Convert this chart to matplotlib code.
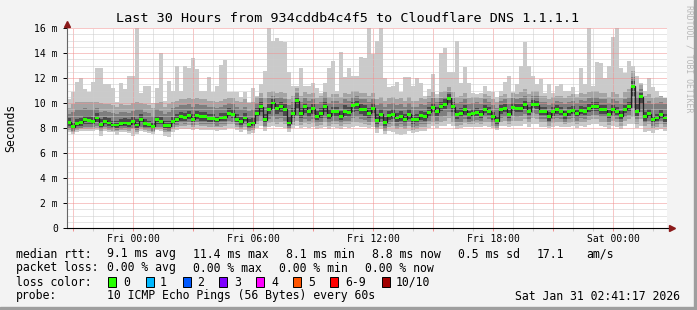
import matplotlib
matplotlib.use("Agg")
import matplotlib.pyplot as plt
import matplotlib.dates as mdates
from matplotlib.patches import Rectangle
from matplotlib.ticker import MultipleLocator, FuncFormatter
from datetime import datetime, timedelta
import numpy as np

# one value per 12 minute step, 30 hours ending Sat Jan 31 02:41:17 2026 (ms)
median_rtt = [
    8.45, 8.1, 8.35, 8.45, 8.65, 8.6, 8.55, 8.8, 8.28, 8.55, 8.4, 8.24, 8.24, 8.35, 8.4, 8.35, 8.5, 8.24, 8.7, 8.35, 8.28, 8.15, 8.65, 8.55, 8.2,
    8.2, 8.55, 8.7, 8.9, 8.85, 9.0, 8.7, 9.0, 8.9, 8.9, 8.75, 8.75, 8.65, 8.8, 8.85, 9.2, 9.1, 8.7, 8.5, 8.8, 8.3, 8.4, 9.15, 9.7, 8.65,
    9.5, 10.0, 9.55, 9.75, 9.5, 8.4, 9.15, 10.2, 9.15, 9.7, 9.3, 9.55, 8.95, 9.15, 9.75, 9.0, 9.3, 9.3, 8.95, 9.35, 9.25, 9.8, 9.85, 9.5, 9.45,
    9.2, 9.6, 8.6, 9.1, 8.45, 9.0, 9.1, 8.8, 8.95, 8.7, 9.1, 8.65, 8.7, 9.0, 8.9, 9.25, 9.65, 9.3, 9.75, 9.9, 10.4, 9.7, 9.1, 9.2, 9.45,
    9.05, 9.2, 9.25, 9.1, 9.5, 9.35, 8.95, 8.6, 9.45, 9.55, 9.1, 9.65, 9.55, 9.6, 9.85, 9.35, 9.9, 9.85, 9.35, 9.35, 8.9, 9.3, 9.45, 9.35, 9.05,
    9.3, 9.4, 9.15, 9.4, 9.35, 9.6, 9.7, 9.7, 9.45, 9.45, 9.1, 9.5, 9.35, 9.0, 9.5, 9.7, 11.35, 9.35, 10.5, 8.9, 9.15, 8.65, 8.8, 9.1, 8.8,
]

# sorted pings of each step (smoke): ping1 lowest ... ping10 highest
ping10 = [
    10.3, 10.9, 11.7, 12.0, 11.1, 10.9, 11.7, 12.8, 12.8, 11.5, 11.5, 11.2, 10.1, 11.6, 11.1, 12.2, 12.2, 16.0, 10.8, 11.4, 11.4, 10.0, 11.2, 14.0, 10.2,
    11.8, 11.0, 13.0, 11.0, 13.0, 12.8, 13.6, 12.75, 11.0, 11.0, 12.1, 10.9, 11.35, 13.05, 13.45, 10.9, 10.9, 10.9, 10.5, 10.9, 10.1, 11.2, 10.6, 11.5, 12.55,
    16.0, 15.0, 15.2, 15.0, 14.9, 12.5, 11.4, 11.4, 12.8, 11.4, 11.4, 11.6, 11.2, 10.8, 11.6, 12.8, 13.4, 11.0, 14.1, 12.1, 12.8, 12.2, 12.2, 13.7, 13.6,
    16.0, 13.9, 15.0, 16.0, 12.0, 11.3, 11.4, 11.7, 10.9, 12.1, 12.1, 11.4, 12.0, 11.6, 10.6, 11.1, 12.3, 10.7, 14.0, 14.4, 12.5, 12.5, 15.0, 11.6, 12.9,
    11.6, 10.8, 10.7, 10.8, 11.4, 11.0, 10.9, 10.5, 11.0, 11.7, 12.2, 10.9, 11.5, 13.0, 14.9, 13.0, 12.2, 11.5, 11.9, 10.8, 11.5, 10.8, 11.4, 11.5, 11.0,
    11.0, 11.3, 10.7, 12.8, 11.5, 16.0, 11.4, 13.3, 13.2, 12.0, 13.0, 15.3, 16.0, 12.8, 12.4, 13.4, 13.0, 12.2, 11.6, 11.0, 12.0, 11.3, 11.0, 10.6, 10.4,
]
ping9 = [
    9.6, 9.9, 10.1, 10.1, 10.1, 10.1, 10.1, 10.1, 10.0, 9.9, 9.9, 9.8, 9.7, 9.9, 9.8, 9.8, 10.0, 10.1, 10.0, 9.9, 9.8, 9.6, 10.0, 10.1, 9.7,
    9.9, 10.1, 10.2, 10.3, 10.3, 10.4, 10.3, 10.4, 10.3, 10.3, 10.2, 10.2, 10.1, 10.2, 10.3, 10.4, 10.4, 10.2, 10.1, 10.3, 10.0, 10.1, 10.5, 10.8, 10.4,
    10.9, 11.0, 10.8, 10.9, 10.8, 10.3, 10.6, 11.2, 10.6, 10.9, 10.7, 10.8, 10.4, 10.6, 10.9, 10.5, 10.7, 10.7, 10.5, 10.8, 10.7, 11.0, 11.0, 10.8, 10.8,
    10.6, 10.8, 10.3, 10.5, 10.2, 10.4, 10.5, 10.3, 10.4, 10.2, 10.5, 10.2, 10.2, 10.4, 10.3, 10.6, 10.9, 10.4, 10.9, 11.0, 11.3, 10.9, 10.5, 10.6, 10.8,
    10.4, 10.5, 10.5, 10.4, 10.7, 10.6, 10.3, 10.1, 10.6, 10.7, 10.4, 10.8, 10.7, 10.9, 11.1, 10.7, 11.0, 11.0, 10.6, 10.6, 10.3, 10.5, 10.6, 10.6, 10.4,
    10.6, 10.7, 10.5, 10.8, 10.7, 10.9, 11.0, 11.0, 10.8, 10.8, 10.5, 10.9, 10.7, 10.4, 10.9, 11.1, 12.6, 11.0, 11.5, 10.6, 10.7, 10.4, 10.5, 10.6, 10.4,
]
ping8 = [
    9.1, 9.3, 9.5, 9.5, 9.6, 9.5, 9.5, 9.6, 9.3, 9.4, 9.3, 9.2, 9.1, 9.3, 9.3, 9.2, 9.4, 9.5, 9.5, 9.3, 9.2, 9.0, 9.5, 9.4, 9.1,
    9.3, 9.6, 9.7, 9.8, 9.8, 9.9, 9.7, 9.9, 9.8, 9.8, 9.7, 9.7, 9.6, 9.7, 9.8, 10.0, 9.9, 9.7, 9.5, 9.7, 9.4, 9.5, 10.0, 10.4, 9.7,
    10.4, 10.6, 10.4, 10.5, 10.3, 9.8, 10.1, 10.8, 10.1, 10.4, 10.2, 10.3, 9.9, 10.1, 10.5, 10.0, 10.2, 10.2, 10.0, 10.3, 10.2, 10.5, 10.6, 10.3, 10.3,
    10.1, 10.3, 9.8, 10.0, 9.7, 9.9, 10.0, 9.8, 9.9, 9.7, 10.0, 9.7, 9.7, 9.9, 9.8, 10.1, 10.4, 10.1, 10.4, 10.5, 10.9, 10.4, 10.0, 10.1, 10.3,
    9.9, 10.0, 10.1, 9.9, 10.3, 10.1, 9.8, 9.6, 10.2, 10.3, 9.9, 10.4, 10.3, 10.4, 10.6, 10.1, 10.6, 10.6, 10.1, 10.1, 9.8, 10.0, 10.2, 10.1, 9.9,
    10.1, 10.2, 10.0, 10.25, 10.2, 10.4, 10.5, 10.5, 10.3, 10.3, 10.0, 10.3, 10.2, 9.9, 10.3, 10.5, 12.1, 10.5, 11.1, 10.0, 10.2, 9.9, 10.0, 10.1, 9.9,
]
ping7 = [
    8.8, 8.5, 8.7, 8.8, 9.0, 9.0, 8.9, 9.2, 8.7, 8.9, 8.8, 8.6, 8.6, 8.7, 8.8, 8.7, 8.9, 8.7, 9.1, 8.7, 8.6, 8.5, 9.0, 8.9, 8.6,
    8.6, 8.9, 9.1, 9.3, 9.2, 9.4, 9.1, 9.4, 9.3, 9.3, 9.1, 9.1, 9.0, 9.2, 9.2, 9.6, 9.5, 9.1, 8.9, 9.2, 8.7, 8.8, 9.6, 10.1, 9.1,
    9.9, 10.3, 9.9, 10.1, 9.9, 9.0, 9.6, 10.5, 9.6, 10.0, 9.7, 9.9, 9.4, 9.6, 10.1, 9.5, 9.7, 9.7, 9.4, 9.8, 9.7, 10.1, 10.2, 9.9, 9.8,
    9.6, 10.0, 9.1, 9.5, 8.9, 9.4, 9.5, 9.2, 9.35, 9.1, 9.5, 9.05, 9.1, 9.4, 9.3, 9.65, 10.0, 9.7, 10.1, 10.3, 10.7, 10.1, 9.5, 9.6, 9.85,
    9.4, 9.55, 9.6, 9.45, 9.85, 9.7, 9.3, 9.0, 9.8, 9.9, 9.45, 10.0, 9.9, 9.95, 10.2, 9.7, 10.25, 10.2, 9.7, 9.7, 9.3, 9.65, 9.8, 9.7, 9.4,
    9.65, 9.75, 9.5, 9.75, 9.7, 9.95, 10.05, 10.05, 9.8, 9.8, 9.45, 9.85, 9.7, 9.35, 9.85, 10.05, 11.8, 9.9, 10.8, 9.3, 9.5, 9.0, 9.15, 9.45, 9.15,
]
ping4 = [
    8.2, 7.95, 8.15, 8.2, 8.35, 8.3, 8.3, 8.5, 8.05, 8.3, 8.15, 8.05, 8.0, 8.15, 8.15, 8.1, 8.25, 8.0, 8.4, 8.1, 8.05, 7.95, 8.35, 8.3, 8.0,
    7.95, 8.3, 8.45, 8.6, 8.6, 8.7, 8.45, 8.7, 8.6, 8.6, 8.5, 8.5, 8.4, 8.55, 8.6, 8.9, 8.8, 8.45, 8.25, 8.55, 8.05, 8.15, 8.85, 9.3, 8.4,
    9.1, 9.5, 9.1, 9.3, 9.0, 8.2, 8.8, 9.6, 8.8, 9.2, 8.9, 9.1, 8.65, 8.8, 9.3, 8.7, 8.9, 8.9, 8.65, 9.0, 8.9, 9.3, 9.4, 9.1, 9.0,
    8.8, 9.2, 8.3, 8.75, 8.15, 8.65, 8.75, 8.5, 8.6, 8.4, 8.75, 8.35, 8.4, 8.65, 8.6, 8.9, 9.25, 8.95, 9.35, 9.5, 9.9, 9.3, 8.75, 8.85, 9.05,
    8.75, 8.9, 8.95, 8.8, 9.2, 9.05, 8.65, 8.35, 9.15, 9.25, 8.8, 9.35, 9.25, 9.3, 9.55, 9.05, 9.6, 9.55, 9.05, 9.05, 8.6, 9.0, 9.15, 9.05, 8.75,
    9.0, 9.1, 8.85, 9.1, 9.05, 9.3, 9.4, 9.4, 9.15, 9.15, 8.8, 9.2, 9.05, 8.7, 9.2, 9.4, 10.6, 9.0, 9.9, 8.6, 8.85, 8.4, 8.55, 8.8, 8.5,
]
ping3 = [
    8.0, 7.8, 7.95, 8.0, 8.1, 8.05, 8.05, 8.2, 7.9, 8.05, 7.95, 7.9, 7.85, 7.95, 8.0, 7.9, 8.0, 7.85, 8.1, 7.95, 7.9, 7.8, 8.1, 8.05, 7.85,
    7.8, 8.1, 8.25, 8.4, 8.35, 8.45, 8.25, 8.45, 8.35, 8.35, 8.3, 8.3, 8.2, 8.3, 8.35, 8.6, 8.5, 8.25, 8.05, 8.3, 7.9, 8.0, 8.55, 8.9, 8.2,
    8.7, 8.9, 8.7, 8.8, 8.6, 8.0, 8.5, 9.0, 8.5, 8.7, 8.55, 8.7, 8.4, 8.5, 8.8, 8.4, 8.55, 8.55, 8.4, 8.6, 8.55, 8.8, 8.85, 8.7, 8.65,
    8.5, 8.8, 8.1, 8.45, 7.95, 8.35, 8.45, 8.2, 8.3, 8.15, 8.45, 8.1, 8.15, 8.35, 8.3, 8.55, 8.85, 8.6, 8.9, 9.0, 9.3, 8.9, 8.45, 8.5, 8.7,
    8.5, 8.6, 8.65, 8.55, 8.85, 8.75, 8.4, 8.15, 8.8, 8.9, 8.55, 9.0, 8.9, 8.95, 9.15, 8.75, 9.2, 9.15, 8.75, 8.75, 8.4, 8.7, 8.8, 8.75, 8.5,
    8.7, 8.8, 8.55, 8.8, 8.75, 9.0, 9.05, 9.05, 8.85, 8.85, 8.5, 8.9, 8.75, 8.45, 8.9, 9.05, 9.6, 8.7, 9.3, 8.4, 8.6, 8.2, 8.35, 8.55, 8.3,
]
ping2 = [
    7.85, 7.7, 7.85, 7.9, 7.95, 7.9, 7.9, 8.0, 7.8, 7.9, 7.85, 7.8, 7.75, 7.85, 7.85, 7.8, 7.9, 7.7, 7.95, 7.85, 7.8, 7.7, 7.95, 7.9, 7.7,
    7.65, 7.95, 8.1, 8.2, 8.15, 8.25, 8.1, 8.25, 8.15, 8.15, 8.1, 8.1, 8.05, 8.1, 8.15, 8.35, 8.3, 8.1, 7.9, 8.1, 7.8, 7.85, 8.3, 8.6, 8.05,
    8.4, 8.5, 8.35, 8.45, 8.3, 7.9, 8.25, 8.6, 8.25, 8.4, 8.3, 8.4, 8.2, 8.25, 8.45, 8.2, 8.3, 8.3, 8.2, 8.35, 8.3, 8.45, 8.5, 8.4, 8.35,
    8.25, 8.45, 7.9, 8.2, 7.75, 8.1, 8.2, 7.95, 8.05, 7.9, 8.2, 7.85, 7.9, 8.1, 8.05, 8.3, 8.5, 8.3, 8.5, 8.6, 8.8, 8.5, 8.2, 8.25, 8.4,
    8.3, 8.35, 8.4, 8.3, 8.5, 8.45, 8.2, 8.0, 8.5, 8.55, 8.3, 8.6, 8.55, 8.6, 8.75, 8.45, 8.8, 8.75, 8.45, 8.45, 8.2, 8.4, 8.5, 8.45, 8.3,
    8.4, 8.5, 8.3, 8.5, 8.45, 8.65, 8.7, 8.7, 8.5, 8.5, 8.25, 8.55, 8.45, 8.2, 8.55, 8.7, 8.9, 8.3, 8.7, 8.15, 8.3, 8.0, 8.1, 8.3, 8.05,
]
ping1 = [
    7.7, 7.55, 7.7, 7.8, 7.8, 7.75, 7.75, 7.85, 7.35, 7.75, 7.7, 7.65, 7.45, 7.7, 7.7, 7.6, 7.4, 7.5, 7.8, 7.7, 7.6, 7.55, 7.85, 7.75, 7.35,
    7.3, 7.7, 7.85, 7.9, 7.9, 7.95, 7.85, 7.95, 7.85, 7.85, 7.85, 7.85, 7.8, 7.85, 7.85, 8.0, 8.0, 7.85, 7.65, 7.85, 7.5, 7.6, 8.0, 8.2, 7.8,
    8.1, 8.15, 8.05, 8.1, 8.0, 7.7, 8.0, 8.2, 8.0, 8.1, 8.0, 8.1, 7.95, 8.0, 8.1, 7.95, 8.05, 8.0, 7.9, 8.05, 8.0, 8.1, 8.15, 8.1, 8.05,
    8.0, 8.1, 7.6, 7.9, 7.5, 7.75, 7.7, 7.5, 7.45, 7.5, 7.8, 7.6, 7.65, 7.8, 7.8, 8.0, 8.2, 8.0, 8.15, 8.2, 8.3, 8.15, 7.95, 8.0, 8.1,
    8.05, 8.1, 8.1, 8.05, 8.15, 8.1, 8.0, 7.85, 8.15, 8.2, 8.05, 8.2, 8.2, 8.2, 8.3, 8.1, 8.3, 8.3, 8.1, 8.1, 8.0, 8.1, 8.15, 8.1, 8.05,
    8.1, 8.15, 8.0, 8.15, 8.1, 8.25, 8.3, 8.3, 8.15, 8.1, 7.95, 8.15, 8.1, 7.9, 8.15, 8.3, 8.35, 8.0, 8.2, 7.7, 7.8, 7.6, 7.85, 7.95, 7.75,
]

loss_labels = ["0", "1", "2", "3", "4", "5", "6-9", "10/10"]
loss_colors = ["#26ff00", "#00b8ff", "#0059ff", "#7e00ff", "#ff00ff", "#ff5500", "#ff0000", "#a10000"]

W, H = 697, 310
plt.rcParams["font.family"] = ["DejaVu Sans Mono"]

start = datetime(2026, 1, 29, 20, 41, 17)
edges = mdates.date2num([start + timedelta(minutes=12 * i) for i in range(len(median_rtt) + 1)])

fig = plt.figure(figsize=(W / 100, H / 100), dpi=100, facecolor="#f3f3f3")
ax = fig.add_axes([67 / W, 1 - 228 / H, 600 / W, 200 / H])
ax.set_facecolor("white")

# smoke bands, outer to inner
bands = [
    (ping1, ping10, "#cacaca"),
    (ping2, ping9, "#a4a4a4"),
    (ping3, ping8, "#7e7e7e"),
    (ping4, ping7, "#4a4a4a"),
]
for lo, hi, c in bands:
    ax.stairs(hi, edges, baseline=lo, fill=True, color=c, lw=0, zorder=1)

med = np.array(median_rtt)
ax.stairs(med, edges, baseline=None, color="#202020", lw=0.9, zorder=3)
sw = 0.12
ax.stairs(med + sw, edges, baseline=med - sw, fill=True, color=loss_colors[0], lw=0, zorder=4)

ax.set_xlim(edges[0], edges[-1])
ax.set_ylim(0, 16)

ax.xaxis.set_major_locator(mdates.HourLocator(byhour=range(0, 24, 3)))
ax.xaxis.set_minor_locator(mdates.HourLocator())


def fmt_time(v, pos):
    d = mdates.num2date(v + 1e-7)
    return d.strftime("%a %H:%M") if d.hour % 6 == 0 else ""


ax.xaxis.set_major_formatter(FuncFormatter(fmt_time))
ax.yaxis.set_major_locator(MultipleLocator(2))
ax.yaxis.set_minor_locator(MultipleLocator(0.5))
ax.yaxis.set_major_formatter(FuncFormatter(lambda v, p: "0" if v == 0 else f"{v:.0f} m"))

ax.set_axisbelow(False)
ax.grid(which="major", color="#f09090", ls=(0, (1, 1)), lw=0.72)
ax.grid(which="minor", color="#cdcdcd", ls=(0, (1, 1)), lw=0.72)

for s in ax.spines.values():
    s.set_visible(False)

ax.tick_params(axis="y", which="major", direction="out", length=3, width=0.7,
               color="#000000", pad=3.6, labelsize=7)
ax.tick_params(axis="y", which="minor", length=0)
ax.tick_params(axis="x", which="major", direction="out", length=2, width=0.7,
               color="#f09090", pad=2.6, labelsize=7)
ax.tick_params(axis="x", which="minor", direction="out", length=2, width=0.7, color="#cdcdcd")

# axis lines with arrows
ax.plot([0, 0], [0, 1.01], transform=ax.transAxes, color="#666666", lw=0.8, clip_on=False, zorder=5)
ax.plot([0, 1.006], [0, 0], transform=ax.transAxes, color="#000000", lw=0.8, clip_on=False, zorder=5)
ax.plot([0], [1.02], marker="^", ms=4, color="#8b1a1a", transform=ax.transAxes, clip_on=False, zorder=6)
ax.plot([1.0075], [0], marker=">", ms=4, color="#8b1a1a", transform=ax.transAxes, clip_on=False, zorder=6)


def fx(x):
    return x / W


def fy(y):
    return 1 - y / H


fig.text(fx(348), fy(19), "Last 30 Hours from 934cddb4c4f5 to Cloudflare DNS 1.1.1.1",
         ha="center", va="center", fontsize=9.7)
fig.text(fx(11), fy(128), "Seconds", rotation=90, ha="center", va="center", fontsize=8.3)
fig.text(fx(688.5), fy(5), "RRDTOOL / TOBI OETIKER", rotation=270, ha="center", va="top",
         fontsize=5.9, color="#b8b8b8")

lf = 8.3
rows = [
    (254, [(16, "median rtt:"), (107, "9.1 ms avg"), (193, "11.4 ms max"), (286, "8.1 ms min"),
           (372, "8.8 ms now"), (458, "0.5 ms sd"), (537, "17.1"), (586, "am/s")]),
    (268, [(16, "packet loss:"), (107, "0.00 % avg"), (193, "0.00 % max"), (279, "0.00 % min"),
           (365, "0.00 % now")]),
    (282, [(16, "loss color:")]),
    (296, [(16, "probe:"), (107, "10 ICMP Echo Pings (56 Bytes) every 60s")]),
]
for y, items in rows:
    for x, t in items:
        fig.text(fx(x), fy(y), t, ha="left", va="center", fontsize=lf)

box_x = [108, 146, 183, 219, 256, 293, 330, 382]
lab_x = [123, 160, 197, 234, 271, 308, 345, 396]
for bx, lx, lab, c in zip(box_x, lab_x, loss_labels, loss_colors):
    fig.patches.append(Rectangle((fx(bx), fy(287)), 8 / W, 10 / H, transform=fig.transFigure,
                                 facecolor=c, edgecolor="#000000", lw=0.7))
    fig.text(fx(lx), fy(282), lab, ha="left", va="center", fontsize=lf)

fig.text(fx(680), fy(296), "Sat Jan 31 02:41:17 2026", ha="right", va="center", fontsize=lf)

# 3d-ish border
fig.patches.append(Rectangle((fx(694), 0), 3 / W, 1, transform=fig.transFigure, color="#9e9e9e"))
fig.patches.append(Rectangle((0, 0), 1, 3 / H, transform=fig.transFigure, color="#9e9e9e"))

fig.savefig("out.png", dpi=100, facecolor=fig.get_facecolor())
